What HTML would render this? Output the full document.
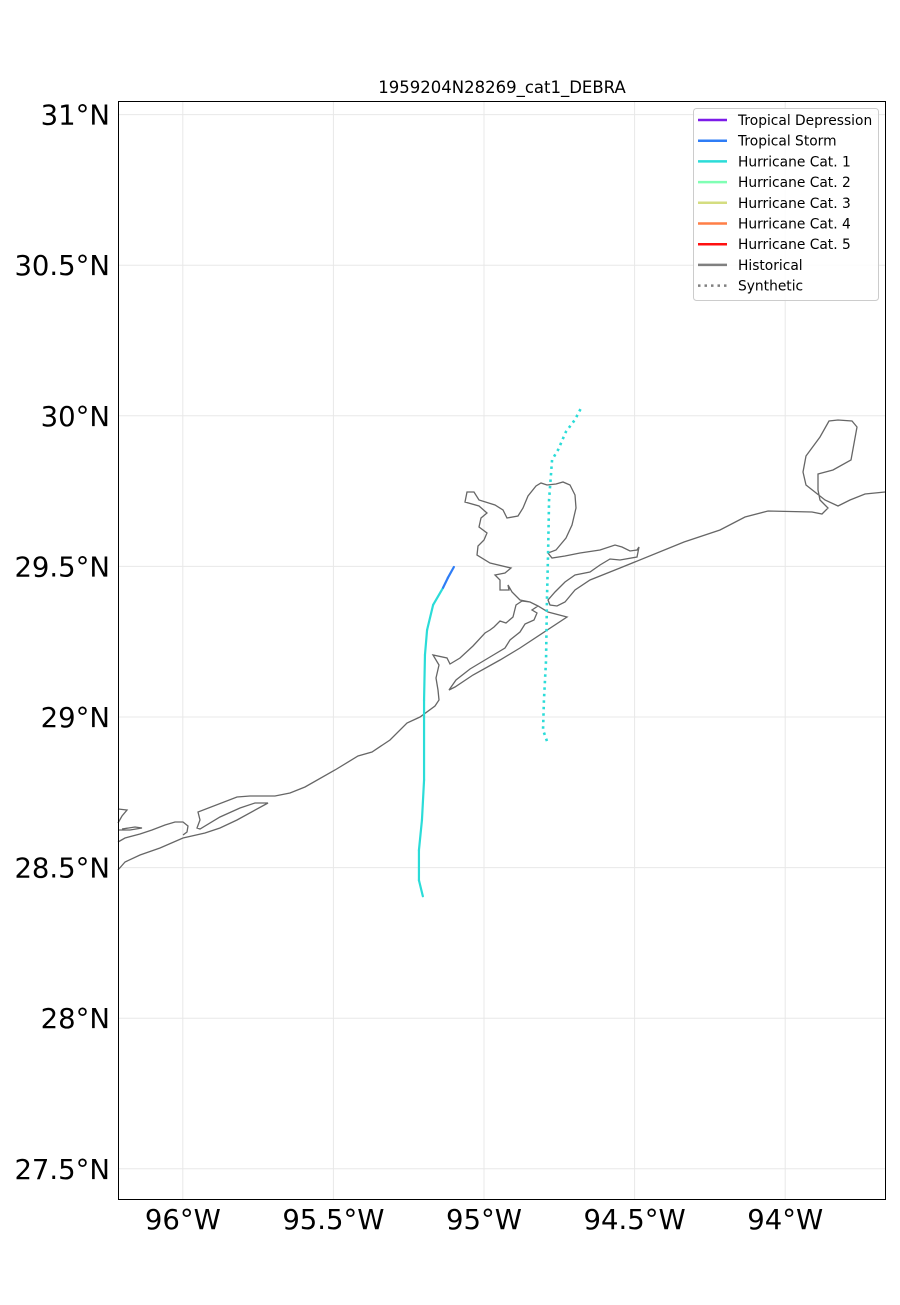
<!DOCTYPE html>
<html><head><meta charset="utf-8"><style>
body{margin:0;background:#fff;}
svg text{font-family:"DejaVu Sans","Liberation Sans",sans-serif;}
</style></head><body>
<svg id="chart" width="900" height="1300" xmlns="http://www.w3.org/2000/svg">
<rect width="900" height="1300" fill="#fff"/>
<text x="502" y="93" font-size="16.5" text-anchor="middle" fill="#000">1959204N28269_cat1_DEBRA</text>
<g id="grid"></g>
<g id="coast" fill="none" stroke="#666" stroke-width="1.3">
<path d="M118,870 L125,862 L140,855 L160,848 L183,838 L205,833 L220,828 L237,820 L268,803 L255,803 L240,808 L220,817 L200,829 L197,828 L200,820 L198,812 L237,797 L250,796 L275,796 L290,793 L305,787 L335,770 L358,756 L372,752 L390,740 L407,723 L420,717 L435,706 L439,700 L438,690 L436,678 L439,665 L433,655 L447,658 L450,664 L460,658 L473,646 L485,633 L490,630 L494,627 L500,621 L506,623 L513,617 L516,605 L522,601 L530,602 L538,606 L532,610 L537,613 L534,620 L525,624 L520,632 L510,640 L505,648 L490,657 L470,669 L456,680 L449,690 L455,687 L473,675 L500,660 L520,648 L567,617 L548,612 L538,606 L530,602 L520,600 L512,592 L508,585 L509,590 L500,590 L500,580 L495,575 L505,573 L511,568 L490,563 L477,555 L478,546 L484,540 L487,533 L479,527 L481,518 L487,513 L479,506 L465,502 L467,492 L474,492 L479,500 L495,505 L503,510 L507,518 L518,516 L523,508 L528,496 L536,486 L541,483 L547,485 L556,484 L563,482 L570,485 L575,495 L576,508 L572,525 L566,538 L556,550 L548,553 L552,558 L565,556 L580,553 L600,550 L615,545 L622,547 L630,551 L637,550 L639,547 L637,557 L620,560 L610,559 L600,565 L590,572 L575,575 L565,582 L555,592 L548,600 L550,605 L557,606 L565,602 L575,590 L590,580 L620,568 L684,542 L720,530 L745,517 L768,511 L812,512 L822,514 L828,508 L820,500 L818,490 L818,474 L833,470 L851,460 L857,427 L852,421 L838,420 L829,421 L820,437 L806,456 L803,472 L806,485 L825,500 L838,506 L850,500 L865,494 L885,492"/>
<path d="M118,842 L125,838 L140,834 L152,830 L165,825 L175,822 L183,822 L188,826 L187,832 L183,835"/>
<path d="M118,823 L122,816 L127,810 L118,809"/>
<path d="M118,830 L130,830 L142,828 L135,827 L122,829"/>
</g>
<g id="tracks"></g>
<rect x="118.5" y="101.5" width="767" height="1098" fill="none" stroke="#000" stroke-width="1"/>
<g id="ticks"></g>
<g>
<rect x="693.5" y="108.5" width="185" height="192" rx="3" fill="#fff" fill-opacity="0.85" stroke="#ccc"/>
<g id="legend-items"></g>
</g>
</svg>
<script>
const lonTicks=[-96,-95.5,-95,-94.5,-94];
const lonLabels=["96°W","95.5°W","95°W","94.5°W","94°W"];
const latTicks=[31,30.5,30,29.5,29,28.5,28,27.5];
const latLabels=["31°N","30.5°N","30°N","29.5°N","29°N","28.5°N","28°N","27.5°N"];
const histLon=[-95.203,-95.216,-95.216,-95.206,-95.199,-95.199,-95.196,-95.189,-95.169,-95.136,-95.120,-95.100];
const histLat=[28.405,28.458,28.558,28.658,28.791,29.056,29.206,29.289,29.372,29.429,29.462,29.498];
const histCat=[2,2,2,2,2,2,2,2,2,2,1,1];
const synLon=[-94.791,-94.804,-94.801,-94.794,-94.791,-94.787,-94.784,-94.774,-94.754,-94.728,-94.698,-94.674];
const synLat=[28.920,28.957,29.056,29.189,29.389,29.555,29.721,29.854,29.887,29.947,29.987,30.033];
const legendLabels=["Tropical Depression","Tropical Storm","Hurricane Cat. 1","Hurricane Cat. 2","Hurricane Cat. 3","Hurricane Cat. 4","Hurricane Cat. 5","Historical","Synthetic"];
const legendColors=["#7c1be8","#2f7df6","#2bdcd8","#80ffb4","#d4dd80","#ff7f47","#ff1010","#808080","#808080"];
const NS="http://www.w3.org/2000/svg";
const X=lon=>484+(lon+95)*301.2;
const Y=lat=>717-(lat-29)*301.2;
function mk(tag,attrs,parent){const e=document.createElementNS(NS,tag);for(const k in attrs)e.setAttribute(k,attrs[k]);parent.appendChild(e);return e;}
const grid=document.getElementById('grid'),ticks=document.getElementById('ticks');
lonTicks.forEach((v,i)=>{
 const l=mk('line',{x1:X(v),x2:X(v),y1:101,y2:1199,stroke:'#e8e8e8','stroke-width':1},grid);
 
 
 const t=mk('text',{x:X(v),y:1229,'font-size':27.5,'text-anchor':'middle',fill:'#000'},ticks);
 t.textContent=lonLabels[i];
 
 
});
latTicks.forEach((v,i)=>{
 const l=mk('line',{x1:118,x2:885,y1:Y(v),y2:Y(v),stroke:'#e8e8e8','stroke-width':1},grid);
 
 
 const t=mk('text',{x:110,y:Y(v)+10,'font-size':27.5,'text-anchor':'end',fill:'#000'},ticks);
 t.textContent=latLabels[i];
 
 
});
const tracks=document.getElementById('tracks');
for(let i=0;i<histLon.length-1;i++){
 const s=mk('line',{x1:X(histLon[i]),y1:Y(histLat[i]),x2:X(histLon[i+1]),y2:Y(histLat[i+1]),stroke:legendColors[histCat[i+1]],'stroke-width':2.2,'stroke-linecap':'round'},tracks);
 
 
}
const sp=mk('polyline',{points:synLon.map((v,i)=>X(v)+','+Y(synLat[i])).join(' '),fill:'none',stroke:'#2bdcd8','stroke-width':2.6,'stroke-dasharray':'2.5 4'},tracks);


const li=document.getElementById('legend-items');
legendLabels.forEach((lab,i)=>{
 const y=120+i*20.7;
 const ln=mk('line',{x1:698,x2:727,y1:y,y2:y,stroke:legendColors[i],'stroke-width':2.5},li);
 if(i===8){ln.setAttribute('stroke-dasharray','2.5 4');}
 
 
 const t=mk('text',{x:738,y:y+5,'font-size':13.8,fill:'#000'},li);
 t.textContent=lab;
 
 
});
</script>
</body></html>
